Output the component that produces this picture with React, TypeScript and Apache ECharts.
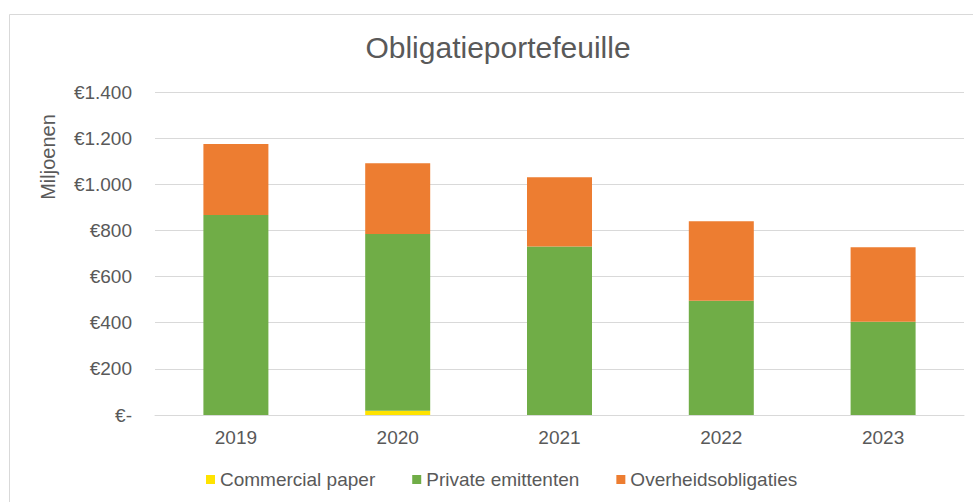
import React, { useEffect, useRef } from "react";
import * as echarts from "echarts";

const years = ["2019", "2020", "2021", "2022", "2023"];
const commercialPaper = [0, 18, 0, 0, 0];
const privateEmittenten = [867, 766, 730, 495, 404];
const overheidsobligaties = [308, 307, 301, 345, 323];
const yTicks = { min: 0, max: 1400, interval: 200 };

const FONT = "Liberation Sans, Arial, sans-serif";
const TXT = "#595959";

function fmtEuro(v: number): string {
  if (v === 0) return "€-";
  return "€" + String(v).replace(/\B(?=(\d{3})+(?!\d))/g, ".");
}

export default function App() {
  const ref = useRef<HTMLDivElement>(null);
  useEffect(() => {
    if (!ref.current) return;
    const chart = echarts.init(ref.current, undefined, { renderer: "svg" });
    const barW = 65;
    chart.setOption({
      animation: false,
      backgroundColor: "#ffffff",
      textStyle: { fontFamily: FONT },
      title: {
        text: "Obligatieportefeuille",
        left: 498,
        top: 32,
        padding: 0,
        textAlign: "center",
        textStyle: { fontFamily: FONT, fontSize: 30, fontWeight: "normal", color: TXT },
      },
      legend: {
        left: 206,
        top: 470,
        padding: 0,
        itemWidth: 9,
        itemHeight: 9,
        itemGap: 37,
        icon: "rect",
        textStyle: { fontFamily: FONT, fontSize: 19, color: TXT },
        data: ["Commercial paper", "Private emittenten", "Overheidsobligaties"],
      },
      grid: { left: 155, right: 9, top: 92, bottom: 87, containLabel: false },
      xAxis: {
        type: "category",
        data: years,
        axisLine: { lineStyle: { color: "#d9d9d9", width: 1 } },
        axisTick: { show: false },
        axisLabel: { fontFamily: FONT, fontSize: 19, color: TXT, margin: 13 },
      },
      yAxis: {
        type: "value",
        min: yTicks.min,
        max: yTicks.max,
        interval: yTicks.interval,
        axisLine: { show: false },
        axisTick: { show: false },
        splitLine: { lineStyle: { color: "#d9d9d9", width: 1 } },
        axisLabel: {
          fontFamily: FONT,
          fontSize: 19,
          color: TXT,
          margin: 23,
          formatter: (v: number) => fmtEuro(v),
        },
      },
      graphic: [
        {
          type: "rect",
          shape: { x: 9.5, y: 14.5, width: 1000, height: 520 },
          style: { fill: "none", stroke: "#d9d9d9", lineWidth: 1 },
          z: -10,
        },
        {
          type: "text",
          x: 48,
          y: 157,
          rotation: Math.PI / 2,
          style: {
            text: "Miljoenen",
            fontFamily: FONT,
            fontSize: 20,
            fill: TXT,
            align: "center",
            verticalAlign: "middle",
          },
        },
      ],
      series: [
        {
          name: "Commercial paper",
          type: "bar",
          stack: "total",
          barWidth: barW,
          data: commercialPaper,
          itemStyle: { color: "#FFE300" },
        },
        {
          name: "Private emittenten",
          type: "bar",
          stack: "total",
          barWidth: barW,
          data: privateEmittenten,
          itemStyle: { color: "#70AD47" },
        },
        {
          name: "Overheidsobligaties",
          type: "bar",
          stack: "total",
          barWidth: barW,
          data: overheidsobligaties,
          itemStyle: { color: "#ED7D31" },
        },
      ],
    });
    return () => chart.dispose();
  }, []);
  return (
    <div
      ref={ref}
      style={{ position: "absolute", left: 0, top: 0, width: 973, height: 502, background: "#fff" }}
    />
  );
}
